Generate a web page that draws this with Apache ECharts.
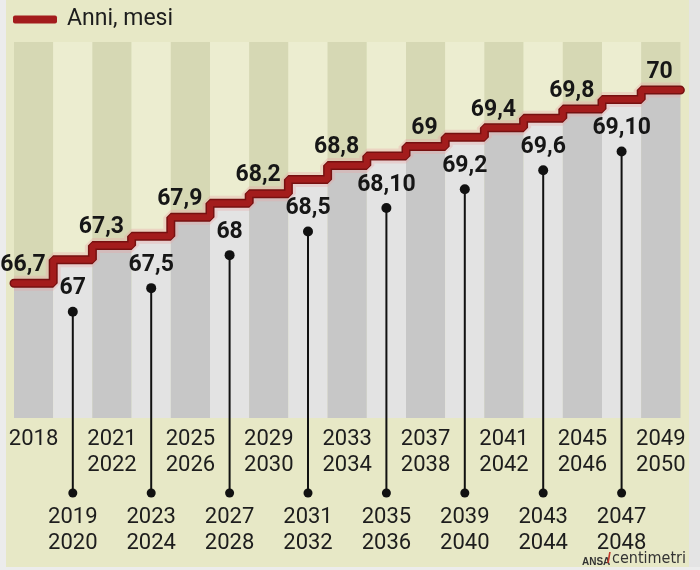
<!DOCTYPE html>
<html>
<head>
<meta charset="utf-8">
<script src="https://cdn.jsdelivr.net/npm/echarts@6/dist/echarts.min.js"></script>
<style>
html,body{margin:0;padding:0;background:#e9e9e9;}
#chart{width:700px;height:570px;}
</style>
</head>
<body>
<div id="chart"></div>
<script>
// ---- data ----
const periods = ['2018','2019\n2020','2021\n2022','2023\n2024','2025\n2026','2027\n2028','2029\n2030','2031\n2032','2033\n2034','2035\n2036','2037\n2038','2039\n2040','2041\n2042','2043\n2044','2045\n2046','2047\n2048','2049\n2050'];
const anni = [66,67,67,67,67,68,68,68,68,68,69,69,69,69,69,69,70];
const mesi = [7,0,3,5,9,0,2,5,8,10,0,2,4,6,8,10,0];
const seriesName = 'Anni, mesi';

// ---- derived ----
const values = anni.map((a,i)=> a + mesi[i]/12);
const labels = anni.map((a,i)=> mesi[i] === 0 ? String(a) : a + ',' + mesi[i]);
const stepData = values.map((v,i)=>[i,v]).concat([[values.length, values[values.length-1]]]);

const Y_MIN = 64.2, Y_MAX = 70.85;
const RED = '#a31c1c';
const FONT = 'Roboto, "Liberation Sans", sans-serif';

const chart = echarts.init(document.getElementById('chart'), null, {renderer:'canvas'});

const option = {
  backgroundColor: '#e7e8c6',
  animation: false,
  grid: {left: 14, right: 19.6, top: 42, bottom: 152},
  legend: {
    data: [seriesName],
    left: 8, top: 3,
    itemWidth: 44, itemHeight: 8,
    icon: 'roundRect',
    textStyle: {fontSize: 23, color: '#1d1d1d', fontFamily: FONT, padding: [0,0,0,5]}
  },
  xAxis: [
    {
      type: 'category', data: periods, boundaryGap: true,
      axisLine: {show: false}, axisTick: {show: false}, splitLine: {show: false},
      axisLabel: {
        interval: 0, margin: 8, fontSize: 22, lineHeight: 26, color: '#1d1d1d', fontFamily: FONT,
        formatter: (v, i) => (i % 2 ? '\n\n\n' + v : v)
      }
    },
    {type: 'value', min: 0, max: periods.length, show: false}
  ],
  yAxis: {type: 'value', min: Y_MIN, max: Y_MAX, startValue: Y_MIN, show: false, splitLine: {show: false}},
  graphic: [
    {type: 'rect', shape: {x: 0, y: 0, width: 6, height: 570}, style: {fill: '#ececec'}, z: 0},
    {type: 'rect', shape: {x: 689, y: 0, width: 11, height: 570}, style: {fill: '#e4e4e4'}, z: 0},
    {type: 'rect', shape: {x: 0, y: 567, width: 700, height: 3}, style: {fill: '#ececec'}, z: 0},
    {type: 'text', x: 582, y: 557, style: {text: 'ANSA', font: 'bold 10px "Liberation Sans", sans-serif', fill: '#333'}, z: 10},
    {type: 'text', x: 607, y: 552, style: {text: '/', font: 'bold 14px "Liberation Sans", sans-serif', fill: '#c0392b'}, z: 10},
    {type: 'text', x: 612, y: 551, style: {text: 'centimetri', font: '16px "DejaVu Sans Condensed", sans-serif', fill: '#333'}, z: 10}
  ],
  series: [
    {
      // background columns
      type: 'custom', name: 'bg', silent: true, z: 1,
      data: values.map((v,i)=>[i, v]),
      renderItem: (params, api) => {
        const i = api.value(0);
        const p = api.coord([i, api.value(1)]);
        const w = api.size([1, 0])[0];
        const cs = params.coordSys;
        return {
          type: 'rect',
          shape: {x: p[0] - w/2, y: cs.y, width: w, height: cs.height},
          style: {fill: i % 2 ? '#ecedd0' : '#d6d8b4'}
        };
      }
    },
    {
      type: 'bar', name: 'gray', silent: true, z: 2, clip: true,
      data: values, barWidth: '100%', barGap: '-100%',
      itemStyle: {color: (p) => (p.dataIndex % 2 ? '#e3e3e3' : '#c7c7c7')}
    },
    {
      type: 'line', name: 'glow', xAxisIndex: 1, step: 'end', data: stepData, z: 3,
      symbol: 'none', silent: true,
      lineStyle: {width: 15, color: 'rgba(235,165,165,0.35)'}
    },
    {
      type: 'line', name: 'outline', xAxisIndex: 1, step: 'end', data: stepData, z: 4,
      symbol: 'none', silent: true,
      lineStyle: {width: 9, color: '#761010', cap: 'round'}
    },
    {
      type: 'line', name: seriesName, xAxisIndex: 1, step: 'end', data: stepData, z: 5,
      symbol: 'none', silent: true,
      itemStyle: {color: RED},
      lineStyle: {width: 6, color: RED, cap: 'round'}
    },
    {
      // value labels, dots, leader lines
      type: 'custom', name: 'labels', silent: true, z: 6, clip: false,
      data: values.map((v,i)=>[i, v]),
      renderItem: (params, api) => {
        const i = api.value(0);
        const p = api.coord([i, api.value(1)]);
        const cs = params.coordSys;
        const text = labels[i];
        if (i % 2 === 0) {
          return {
            type: 'text',
            style: {text, x: p[0] + 12, y: p[1] - 18, align: 'right', verticalAlign: 'middle',
                    font: 'bold 23px ' + FONT, fill: '#161616'}
          };
        }
        const yDot = p[1] + 52;
        const yBottom = cs.y + cs.height + 75;
        return {
          type: 'group',
          children: [
            {type: 'line', shape: {x1: p[0], y1: yDot, x2: p[0], y2: yBottom}, style: {stroke: '#111', lineWidth: 2}},
            {type: 'circle', shape: {cx: p[0], cy: yDot, r: 5}, style: {fill: '#111'}},
            {type: 'circle', shape: {cx: p[0], cy: yBottom, r: 4.5}, style: {fill: '#111'}},
            {type: 'text', style: {text, x: p[0], y: p[1] + 29, align: 'center', verticalAlign: 'middle',
                    font: 'bold 23px ' + FONT, fill: '#161616'}}
          ]
        };
      }
    }
  ]
};
chart.setOption(option);
</script>
</body>
</html>
